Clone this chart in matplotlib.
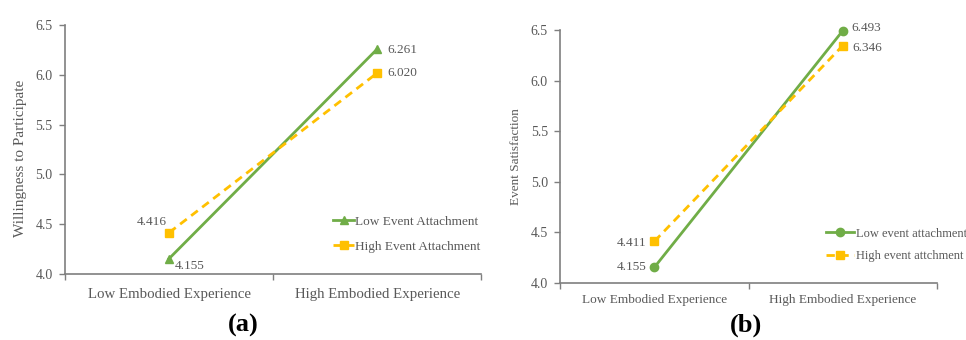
import matplotlib.pyplot as plt

plt.rcParams['font.family'] = ['Liberation Serif', 'DejaVu Serif']

# data
categories = ['Low Embodied Experience', 'High Embodied Experience']
a_low = [4.155, 6.261]
a_high = [4.416, 6.020]
b_low = [4.155, 6.493]
b_high = [4.411, 6.346]
yticks = [4.0, 4.5, 5.0, 5.5, 6.0, 6.5]

GREEN = '#70AD47'
ORANGE = '#FFC000'
TXT = '#595959'
AX = '#7f7f7f'

fig = plt.figure(figsize=(9.66, 3.4), dpi=100)
ax1 = fig.add_axes([0.0673, 0.194, 0.431, 0.732])
ax2 = fig.add_axes([0.580, 0.168, 0.390, 0.744])


def style(ax, ylabel, xsize, ysize, xpad, ly):
    ax.set_xlim(-0.5, 1.5)
    ax.set_ylim(4.0, 6.5)
    ax.set_yticks(yticks)
    ax.set_yticklabels(['%.1f' % v for v in yticks])
    ax.set_xticks([0, 1])
    ax.set_xticklabels(categories)
    ax.set_xticks([-0.5, 0.5, 1.5], minor=True)
    ax.tick_params(axis='x', which='major', length=0, pad=xpad, labelsize=xsize, colors=TXT)
    ax.tick_params(axis='x', which='minor', length=4, direction='out', color=AX, width=1)
    ax.tick_params(axis='y', length=4, direction='out', color=AX, width=1, labelsize=10,
                   colors=TXT, pad=5)
    for s in ['top', 'right']:
        ax.spines[s].set_visible(False)
    for s in ['left', 'bottom']:
        ax.spines[s].set_color(AX)
        ax.spines[s].set_linewidth(1.2)
    ax.set_ylabel(ylabel, fontsize=ysize, color=TXT, labelpad=6, y=ly)


x = [0, 1]

# panel (a)
ax1.plot(x, a_low, color=GREEN, lw=2, marker='^', ms=6, label='Low Event Attachment', clip_on=False)
ax1.plot(x, a_high, color=ORANGE, lw=2, ls='--', dashes=(3, 2), marker='s', ms=6,
         label='High Event Attachment', clip_on=False)
style(ax1, 'Willingness to Participate', 10.7, 11, 10, 0.466)
ax1.annotate('%.3f' % a_low[1], (1, a_low[1]), xytext=(7, -1), textcoords='offset points',
             va='center', ha='left', fontsize=9.5, color=TXT)
ax1.annotate('%.3f' % a_high[1], (1, a_high[1]), xytext=(7, 0), textcoords='offset points',
             va='center', ha='left', fontsize=9.5, color=TXT)
ax1.annotate('%.3f' % a_high[0], (0, a_high[0]), xytext=(-2, 3), textcoords='offset points',
             va='bottom', ha='right', fontsize=9.5, color=TXT)
ax1.annotate('%.3f' % a_low[0], (0, a_low[0]), xytext=(4, -1), textcoords='offset points',
             va='top', ha='left', fontsize=9.5, color=TXT)
ax1.legend(loc='center right', bbox_to_anchor=(1.027, 0.16), frameon=False, fontsize=9.5,
           handlelength=1.6, handletextpad=0.1, labelspacing=0.95, labelcolor=TXT)

# panel (b)
ax2.plot(x, b_low, color=GREEN, lw=2, marker='o', ms=6, label='Low event attachment', clip_on=False)
ax2.plot(x, b_high, color=ORANGE, lw=2, ls='--', dashes=(3, 2), marker='s', ms=6,
         label='High event attchment', clip_on=False)
style(ax2, 'Event Satisfaction', 9.5, 9.5, 8, 0.5)
ax2.annotate('%.3f' % b_low[1], (1, b_low[1]), xytext=(6, 2), textcoords='offset points',
             va='center', ha='left', fontsize=9.5, color=TXT)
ax2.annotate('%.3f' % b_high[1], (1, b_high[1]), xytext=(7, -2), textcoords='offset points',
             va='center', ha='left', fontsize=9.5, color=TXT)
ax2.annotate('%.3f' % b_high[0], (0, b_high[0]), xytext=(-6, -1), textcoords='offset points',
             va='center', ha='right', fontsize=9.5, color=TXT)
ax2.annotate('%.3f' % b_low[0], (0, b_low[0]), xytext=(-6, 0), textcoords='offset points',
             va='center', ha='right', fontsize=9.5, color=TXT)
ax2.legend(loc='center left', bbox_to_anchor=(0.676, 0.15), frameon=False, fontsize=9,
           handlelength=2.2, handletextpad=0.2, labelspacing=0.85, labelcolor=TXT)

fig.text(243 / 966, 1 - 325 / 340, '(a)', ha='center', va='center', fontsize=19, fontweight='bold')
fig.text(746 / 966, 1 - 325 / 340, '(b)', ha='center', va='center', fontsize=19, fontweight='bold')

fig.savefig('out.png', dpi=100)
